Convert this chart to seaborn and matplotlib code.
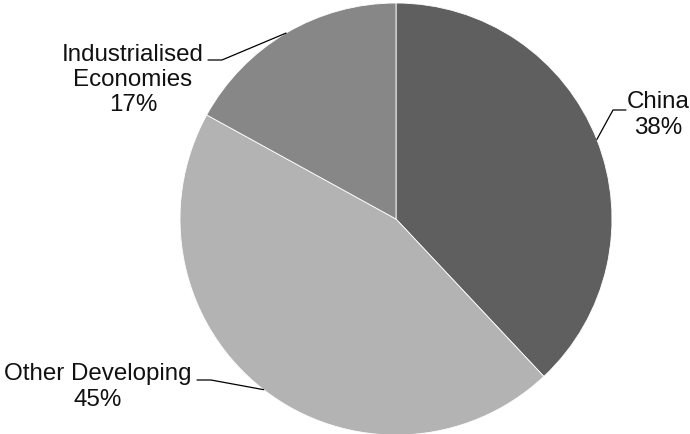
import matplotlib
matplotlib.use("Agg")
import matplotlib.pyplot as plt
import numpy as np
import seaborn as sns

# Share of total, clockwise from 12 o'clock
regions = ["China", "Other Developing", "Industrialised\nEconomies"]
shares = [38, 45, 17]
colors = ["#5f5f5f", "#b3b3b3", "#878787"]

sns.set_theme(style="white")
plt.rcParams["font.family"] = ["Liberation Sans", "DejaVu Sans"]

W, H = 690, 434
fig = plt.figure(figsize=(W / 100, H / 100), dpi=100)
ax = fig.add_axes([0, 0, 1, 1])

center = (396, 215)
radius = 216
wedges, _ = ax.pie(shares, colors=colors, startangle=90, counterclock=False,
                   center=center, radius=radius,
                   wedgeprops=dict(edgecolor="white", linewidth=0.6))
ax.set_xlim(0, W)
ax.set_ylim(0, H)
ax.set_aspect("equal")
ax.axis("off")

# label anchor (text centre), elbow of the leader line, end of the horizontal stub
layout = {
    "China": dict(text=(658, 319), elbow=(613, 324), stub=(626, 324)),
    "Other Developing": dict(text=(98, 47), elbow=(211, 54), stub=(197, 54)),
    "Industrialised\nEconomies": dict(text=(133, 354), elbow=(222, 374), stub=(208, 374)),
}

for w, name, val in zip(wedges, regions, shares):
    mid = np.deg2rad((w.theta1 + w.theta2) / 2)
    px = center[0] + radius * np.cos(mid)
    py = center[1] + radius * np.sin(mid)
    L = layout[name]
    ax.plot([px, L["elbow"][0], L["stub"][0]], [py, L["elbow"][1], L["stub"][1]],
            color="black", lw=0.9, clip_on=False, zorder=3)
    ax.text(L["text"][0], L["text"][1], f"{name}\n{val}%", ha="center", va="center",
            multialignment="center", fontsize=17.4, color="#111111", linespacing=1.2)

fig.savefig("out.png", dpi=100)
